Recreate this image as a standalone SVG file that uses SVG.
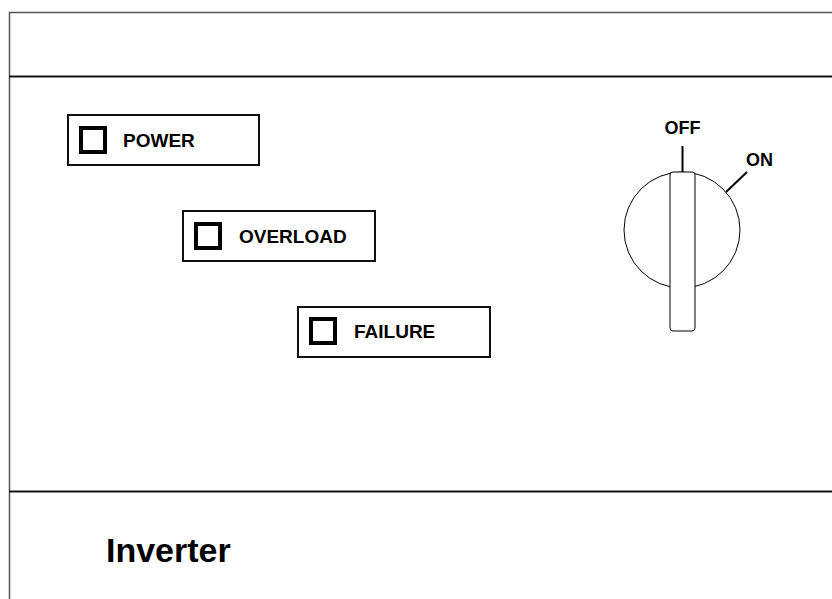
<svg xmlns="http://www.w3.org/2000/svg" width="832" height="599" viewBox="0 0 832 599">
<style>
.lbl{font-family:"Liberation Sans",Arial,sans-serif;font-weight:bold;font-size:19px;fill:#000}
.sw{font-size:18px}
.box{fill:#fff;stroke:#111;stroke-width:2}
.led{fill:#fff;stroke:#000;stroke-width:4}
.thin{fill:none;stroke:#000;stroke-width:1}
</style>
<rect width="832" height="599" fill="#fff"/>
<g id="frame">
<rect x="9.5" y="12.5" width="840" height="600" fill="none" stroke="#555" stroke-width="1.5"/>
<line x1="9" y1="76.5" x2="832" y2="76.5" stroke="#111" stroke-width="2"/>
<line x1="9" y1="491.5" x2="832" y2="491.5" stroke="#111" stroke-width="2"/>
</g>
<g id="power">
<rect class="box" x="68" y="115" width="191" height="50"/>
<rect class="led" x="81" y="128" width="24" height="24"/>
<text class="lbl" x="123" y="147">POWER</text>
</g>
<g id="overload">
<rect class="box" x="183" y="211" width="192" height="50"/>
<rect class="led" x="196" y="224" width="24" height="24"/>
<text class="lbl" x="239" y="243">OVERLOAD</text>
</g>
<g id="failure">
<rect class="box" x="298" y="307" width="192" height="50"/>
<rect class="led" x="311" y="319" width="24" height="24"/>
<text class="lbl" x="354" y="338">FAILURE</text>
</g>
<g id="switch">
<circle class="thin" cx="682" cy="230" r="58"/>
<line x1="682.5" y1="146" x2="682.5" y2="172" stroke="#000" stroke-width="2"/>
<line x1="726" y1="192" x2="747" y2="172" stroke="#000" stroke-width="2"/>
<rect x="670" y="172" width="25" height="159" rx="3" fill="#fff" stroke="#000" stroke-width="1"/>
<text class="lbl sw" x="682.5" y="134" text-anchor="middle">OFF</text>
<text class="lbl sw" x="746" y="166">ON</text>
</g>
<g id="title">
<text class="lbl" x="106" y="562" style="font-size:34px">Inverter</text>
</g>
</svg>
